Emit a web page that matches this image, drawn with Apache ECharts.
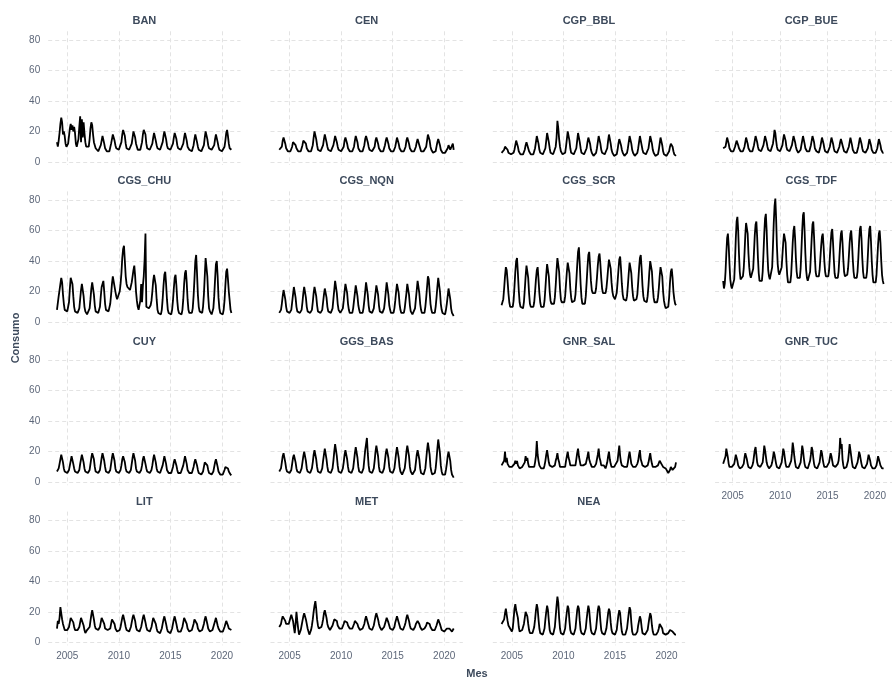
<!DOCTYPE html>
<html>
<head>
<meta charset="utf-8">
<script src="https://cdn.jsdelivr.net/npm/echarts@6/dist/echarts.min.js"></script>
<style>
  html, body { margin: 0; padding: 0; background: #ffffff; }
  #chart { width: 892px; height: 679px; }
</style>
</head>
<body>
<div id="chart"></div>
<script>
// Monthly gas consumption per distribution area, Jan 2004 – Dec 2020 (one row per year)
const panelNames = ['BAN', 'CEN', 'CGP_BBL', 'CGP_BUE', 'CGS_CHU', 'CGS_NQN', 'CGS_SCR', 'CGS_TDF',
                    'CUY', 'GGS_BAS', 'GNR_SAL', 'GNR_TUC', 'LIT', 'MET', 'NEA'];
const startYear = 2004;
const yearTicks = [2005, 2010, 2015, 2020];
const consumoTicks = [0, 20, 40, 60, 80];

const BAN = [
  13,10,14,19,25,29,26,18,20,17,12,10,
  10,12,17,22,25,21,24,20,23,19,12,10,
  11,15,23,30,13,28,16,26,19,13,10,9,
  9,10,15,22,26,24,18,13,11,9,8,8,
  7,6,8,11,14,17,16,12,9,8,7,6,
  7,7,8,12,15,18,17,14,11,9,8,8,
  8,8,9,13,18,21,22,17,12,9,8,8,
  8,8,9,12,16,20,21,16,12,10,8,8,
  8,8,9,13,18,21,22,18,12,9,8,8,
  8,8,9,12,16,19,18,14,11,9,8,8,
  8,8,9,13,17,20,20,15,11,9,8,8,
  8,8,9,12,16,19,19,15,11,9,8,8,
  8,8,9,12,16,19,18,14,10,9,8,8,
  7,7,8,11,15,18,17,13,10,8,8,7,
  7,7,8,11,16,20,19,15,11,9,8,8,
  8,7,8,11,15,18,17,13,10,8,8,7,
  7,7,8,10,14,19,21,17,12,9,8,8
];
const CEN = [
  8,7,8,10,14,16,15,12,9,8,7,7,
  7,7,8,10,13,14,14,11,9,8,7,7,
  7,7,8,11,14,15,14,12,9,8,7,7,
  7,7,8,11,16,20,19,15,11,8,7,7,
  7,7,8,11,15,18,17,13,10,8,7,7,
  7,7,8,11,14,17,16,13,10,8,7,7,
  7,7,8,10,14,16,16,12,9,8,7,7,
  7,7,8,10,14,17,16,13,9,8,7,7,
  7,7,8,11,15,17,17,13,10,8,7,7,
  7,7,8,10,14,16,15,12,9,8,7,7,
  7,7,8,11,14,16,16,12,9,8,7,7,
  7,7,8,10,13,16,15,12,9,8,7,6,
  7,7,8,10,14,16,15,12,9,8,7,7,
  7,7,8,10,13,15,15,11,9,7,7,6,
  7,6,7,10,14,18,19,14,10,8,7,6,
  7,6,7,10,13,15,14,11,8,7,6,6,
  6,6,6,7,9,11,10,8,7,9,12,8
];
const CGP_BBL = [
  6,5,6,8,10,11,10,8,6,5,5,5,
  5,5,6,8,11,14,13,10,7,6,5,5,
  5,5,6,8,11,13,12,9,7,6,5,5,
  5,5,6,9,13,17,16,12,8,6,5,5,
  5,5,6,9,14,19,18,13,9,6,5,5,
  5,5,6,10,16,27,22,15,10,7,6,5,
  5,5,6,10,15,20,19,14,9,6,5,5,
  5,5,6,9,14,19,18,13,9,6,5,5,
  5,5,6,9,13,16,16,12,8,6,5,4,
  5,5,6,9,13,17,16,12,8,6,5,5,
  5,5,6,9,14,18,17,12,8,6,5,4,
  5,4,5,8,12,15,15,11,8,6,5,4,
  5,5,6,9,13,17,16,12,8,6,5,4,
  5,5,6,9,13,17,16,11,8,6,5,5,
  5,5,6,9,13,17,16,12,8,6,5,4,
  4,4,5,8,12,16,15,11,7,5,5,4,
  4,4,5,7,10,12,13,10,7,5,4,4
];
const CGP_BUE = [
  9,8,8,10,13,16,15,12,9,8,7,7,
  7,7,8,10,12,14,14,11,9,8,7,7,
  7,7,8,10,13,16,15,12,9,8,7,7,
  7,7,8,11,14,17,17,13,10,8,7,7,
  7,7,8,11,14,17,16,13,10,8,7,7,
  7,7,8,12,16,21,19,14,10,8,7,7,
  7,7,8,11,15,18,18,14,10,8,7,7,
  7,7,8,11,14,17,17,13,10,8,7,6,
  7,7,8,11,14,17,16,12,9,8,7,6,
  7,7,8,11,14,17,17,13,9,8,7,6,
  7,6,7,10,13,16,16,12,9,7,6,6,
  6,6,7,10,13,16,15,12,9,7,6,6,
  6,6,7,10,13,15,15,11,9,7,6,6,
  6,6,7,10,13,16,15,11,8,7,6,6,
  6,6,7,10,13,16,16,12,9,7,6,6,
  6,6,7,9,12,15,15,11,8,7,6,6,
  6,6,7,9,12,15,14,11,8,7,6,6
];
const CGS_CHU = [
  8,8,17,21,25,29,26,18,12,8,7,7,
  7,8,13,22,29,27,25,17,10,7,6,6,
  6,6,9,15,21,25,24,17,10,7,6,5,
  5,6,9,15,22,26,25,18,11,7,6,6,
  6,6,10,17,23,24,27,20,12,8,7,7,
  7,8,12,18,25,30,31,29,20,17,15,14,
  16,20,25,32,42,48,50,40,30,25,23,22,
  22,21,22,26,30,34,37,30,20,14,10,8,
  7,14,25,13,24,30,41,58,10,9,10,9,
  10,11,14,20,27,31,32,24,15,8,6,5,
  5,5,8,15,24,31,33,25,15,8,6,5,
  5,5,8,14,22,29,31,24,14,8,6,5,
  5,5,8,15,25,32,34,26,15,8,6,5,
  6,6,9,17,28,40,44,32,18,10,7,6,
  6,6,10,18,30,42,41,30,17,9,7,6,
  5,5,9,17,28,38,40,30,16,9,6,5,
  5,5,8,14,24,33,35,28,20,14,8,6
];
const CGS_NQN = [
  6,6,8,12,17,21,20,15,10,7,6,6,
  6,6,8,13,18,23,22,16,10,7,6,6,
  6,6,8,13,19,23,22,16,10,7,6,6,
  6,6,8,13,19,23,23,17,11,7,6,6,
  6,6,8,13,18,22,23,16,10,7,6,6,
  6,6,9,15,21,27,26,19,12,8,7,6,
  6,6,9,14,20,25,26,19,12,8,6,6,
  6,6,9,14,19,24,23,17,11,8,6,6,
  6,6,9,14,20,26,25,18,11,7,6,6,
  6,6,9,14,19,24,25,18,11,7,6,6,
  6,6,9,14,20,26,25,18,11,8,6,6,
  6,6,9,14,20,25,26,19,12,8,6,6,
  6,6,9,14,19,25,24,18,11,7,6,5,
  5,6,9,15,21,27,26,19,12,8,6,6,
  6,6,10,16,23,30,28,20,12,8,6,6,
  6,6,10,16,23,29,28,20,12,8,6,5,
  5,5,8,12,17,22,21,15,9,6,5,4
];
const CGS_SCR = [
  11,12,15,22,30,36,34,27,19,13,10,10,
  9,10,14,23,33,40,42,32,21,13,10,9,
  9,9,13,21,30,37,38,29,19,12,10,9,
  9,10,13,20,28,34,36,28,19,13,10,10,
  9,10,14,22,31,38,39,30,20,14,12,12,
  12,12,16,24,34,42,43,33,22,15,13,12,
  12,13,17,25,33,39,40,32,22,16,13,13,
  13,14,18,27,37,46,49,38,25,16,12,11,
  11,12,17,26,36,44,46,37,27,21,19,19,
  19,19,22,29,37,43,45,38,29,22,19,19,
  19,19,22,28,35,41,42,35,26,20,17,16,
  15,16,19,26,34,41,43,35,25,18,15,14,
  14,14,17,24,32,39,40,32,23,17,14,14,
  14,15,18,26,35,42,44,35,24,17,14,13,
  13,13,17,24,33,40,41,33,23,16,13,13,
  13,13,16,22,30,36,37,30,20,14,11,9,
  8,9,10,16,26,33,35,29,20,15,12,11
];
const CGS_TDF = [
  27,22,25,33,45,55,58,50,38,28,24,22,
  22,23,28,40,55,66,69,60,45,33,28,29,
  29,30,35,45,57,65,66,58,45,36,31,29,
  29,30,35,46,57,64,66,56,42,32,27,26,
  26,27,33,45,58,68,71,60,45,34,30,28,
  28,29,36,50,65,76,81,68,50,38,33,31,
  31,32,36,44,52,58,59,52,40,31,26,25,
  25,26,31,41,52,60,63,55,42,33,29,28,
  28,29,35,47,60,70,72,60,45,34,29,27,
  27,28,33,44,55,64,66,56,43,33,30,29,
  29,30,34,42,50,56,58,50,40,33,30,29,
  29,30,34,43,52,59,61,52,41,32,29,28,
  28,29,33,42,51,58,60,52,41,33,30,30,
  30,31,35,43,52,58,60,52,41,33,29,28,
  28,29,33,42,53,61,63,55,42,33,29,28,
  28,29,33,43,54,61,63,53,40,31,26,25,
  25,26,31,41,51,58,60,52,40,31,27,25
];
const CUY = [
  7,7,9,12,15,18,17,13,9,7,6,6,
  6,6,8,11,14,17,16,12,9,7,6,6,
  6,6,8,12,15,18,17,13,9,7,6,6,
  6,6,8,12,16,19,20,15,10,7,6,6,
  6,6,8,12,16,19,18,14,10,7,6,6,
  6,6,8,12,16,19,18,14,9,7,6,6,
  6,6,8,11,15,17,18,13,9,7,6,6,
  6,6,8,12,16,19,18,14,9,7,6,6,
  6,6,8,11,15,17,16,12,9,7,6,6,
  6,6,8,11,15,18,17,13,9,7,6,6,
  6,6,7,11,14,17,16,12,8,7,6,6,
  6,6,7,10,13,15,15,11,8,6,6,5,
  6,6,7,11,14,17,16,12,8,7,6,6,
  6,6,7,10,13,15,14,11,8,6,6,5,
  5,5,7,10,13,14,14,11,8,6,5,5,
  5,5,7,10,13,15,14,10,7,6,5,5,
  5,5,6,8,10,11,11,9,7,6,5,4.5
];
const GGS_BAS = [
  7,7,9,13,17,19,18,13,9,7,6,6,
  6,6,8,12,16,18,17,13,9,7,6,6,
  6,6,9,13,17,20,19,14,9,7,6,6,
  6,6,9,13,18,21,21,15,10,7,6,6,
  6,6,9,14,18,22,21,15,10,7,6,6,
  6,6,9,14,20,25,24,17,11,7,6,6,
  6,6,9,13,18,21,20,15,10,7,6,6,
  6,6,9,14,19,23,22,16,10,7,6,6,
  6,6,9,15,21,25,29,19,11,7,6,6,
  6,6,9,14,20,24,23,17,10,7,6,6,
  6,6,9,14,19,22,21,16,10,7,6,6,
  6,6,9,14,19,23,22,16,10,7,6,5,
  5,6,9,14,20,24,23,17,10,7,6,5,
  5,6,8,13,18,21,20,15,9,6,5,5,
  5,6,9,15,21,26,25,18,10,7,5,5,
  5,6,9,15,22,28,27,19,11,7,5,5,
  5,5,8,12,17,20,19,14,8,5,4,3
];
const GNR_SAL = [
  11,12,10,14,20,13,16,12,11,10,11,10,
  10,11,10,12,14,12,14,11,10,9,10,10,
  10,9,11,13,17,14,16,12,10,11,9,10,
  10,11,10,13,17,27,18,14,11,10,9,10,
  10,9,11,14,18,21,17,13,11,10,11,10,
  10,10,11,14,16,19,15,13,10,11,9,10,
  10,11,10,14,17,20,16,14,11,10,10,11,
  10,12,11,15,19,22,17,14,11,12,10,11,
  11,10,12,13,17,20,15,13,12,10,11,10,
  10,11,12,15,18,22,16,14,11,12,10,11,
  10,9,11,13,17,20,15,12,10,11,9,10,
  10,12,11,14,19,24,17,13,11,10,12,10,
  10,11,10,13,17,20,16,12,11,10,10,11,
  10,11,12,14,18,21,15,13,11,12,10,10,
  10,9,11,13,16,19,15,12,10,11,10,10,
  10,10,11,12,14,13,12,11,10,10,9,9,
  9,8,6,7,8,10,9,8,7,8,10,13
];
const GNR_TUC = [
  12,11,13,17,22,19,16,12,10,11,10,10,
  10,11,12,15,18,16,14,11,10,9,10,10,
  10,10,12,16,19,17,15,12,10,9,10,9,
  10,11,13,17,21,23,18,13,11,10,10,10,
  10,10,13,18,24,21,17,13,11,10,9,10,
  10,11,13,16,20,18,15,12,10,9,10,9,
  10,10,13,17,22,20,16,12,10,9,10,10,
  10,11,14,19,26,22,17,13,10,9,9,9,
  9,10,13,18,24,21,16,12,10,9,10,9,
  9,10,14,18,23,21,16,12,10,11,9,9,
  9,10,13,17,21,19,15,12,10,9,9,10,
  10,11,13,16,19,17,14,11,10,12,10,10,
  10,12,14,19,29,22,25,15,11,9,10,10,
  10,11,14,19,25,21,17,13,10,9,10,9,
  9,10,13,16,20,18,15,12,10,9,9,9,
  9,10,12,15,18,17,14,11,10,9,9,9,
  9,9,11,14,17,16,13,11,10,9,9,9
];
const LIT = [
  9,14,12,16,23,19,15,12,10,8,7,8,
  8,8,10,13,16,17,16,13,10,8,8,8,
  8,8,10,13,16,17,15,11,8,6,7,8,
  8,8,10,14,18,21,20,15,11,9,8,8,
  8,8,10,13,16,17,16,12,9,8,8,8,
  8,8,9,12,15,16,15,12,9,8,7,7,
  7,8,10,13,16,18,17,13,10,8,7,7,
  7,8,10,13,16,18,18,14,10,8,7,7,
  7,8,10,13,16,18,17,13,10,8,7,7,
  7,8,10,13,16,17,16,12,9,7,6,6,
  6,7,9,12,15,17,16,12,9,7,6,6,
  6,7,9,12,15,17,16,12,9,7,7,7,
  7,8,10,13,16,17,16,12,9,8,7,7,
  7,8,9,12,15,16,15,12,9,8,7,7,
  7,8,9,12,15,17,16,12,9,8,7,7,
  7,8,9,12,14,16,15,11,9,8,7,7,
  7,7,8,10,12,14,13,11,9,8,8,8
];
const MET = [
  10,11,12,15,17,18,16,14,12,11,11,12,
  13,16,18,19,14,10,6,12,20,14,9,5,
  5,8,11,14,17,19,18,15,12,9,7,5,
  6,8,11,15,20,24,27,22,15,11,9,9,
  9,10,12,15,19,21,20,16,12,10,9,8,
  8,9,11,13,15,16,16,14,11,10,9,9,
  9,9,10,12,14,15,15,13,11,10,9,8,
  8,9,10,12,14,15,14,12,10,9,8,8,
  8,9,10,12,15,17,16,13,11,9,8,8,
  8,9,11,14,17,19,18,15,12,10,9,8,
  8,9,10,12,14,16,15,13,11,9,8,8,
  8,9,10,13,15,17,16,13,11,9,8,8,
  8,9,11,13,16,18,17,14,11,9,8,8,
  8,9,10,12,13,14,14,12,10,9,8,8,
  8,9,10,11,13,14,13,12,10,9,8,7,
  7,8,9,11,13,15,14,12,10,8,7,7,
  7,6,7,9,10,10,9,8,9,7,8,9
];
const NEA = [
  12,12,13,15,19,22,18,14,11,10,9,8,
  7,9,15,22,25,21,20,16,10,7,7,8,
  8,9,12,16,20,21,17,12,8,6,6,6,
  6,7,10,15,21,25,22,15,9,6,5,5,
  5,6,9,15,20,24,21,14,8,6,5,5,
  5,6,10,17,24,30,26,16,9,6,5,5,
  5,6,9,15,20,24,22,14,8,6,5,5,
  5,6,9,15,21,24,22,14,8,6,5,5,
  5,6,9,15,20,24,21,14,8,6,5,5,
  5,6,9,15,21,24,22,14,8,6,5,5,
  5,6,9,14,19,22,20,13,8,6,5,5,
  5,6,8,13,18,21,19,12,7,5,5,5,
  5,6,9,14,19,23,21,13,7,5,5,5,
  5,5,7,11,14,17,15,10,6,5,5,5,
  5,5,8,12,16,19,17,11,7,5,5,5,
  5,5,7,9,12,13,12,9,6,5,5,5,
  5,5,6,7,8,9,8,7,6,6,5,5
];

const seriesValues = [BAN, CEN, CGP_BBL, CGP_BUE, CGS_CHU, CGS_NQN, CGS_SCR, CGS_TDF,
                      CUY, GGS_BAS, GNR_SAL, GNR_TUC, LIT, MET, NEA];

// facet layout (4 columns, panels wrap left-to-right)
const nCol = 4;
const cellLeft = 48.2, cellStepX = 222.3, cellW = 192.3;
const cellTop = 31.3, cellStepY = 160.1, cellH = 133.7;
const xMin = 2003.15, xMax = 2021.8;
const yMin = -2, yMax = 85.7;

const FONT = '"Liberation Sans", Arial, Helvetica, sans-serif';
const stripColor = '#3d4a5c';
const tickColor = '#5d6779';
const gridColor = '#e3e3e3';

const grids = [], xAxes = [], yAxes = [], series = [], graphics = [];
const nPanels = panelNames.length;

panelNames.forEach((name, k) => {
  const col = k % nCol, row = Math.floor(k / nCol);
  const left = cellLeft + col * cellStepX;
  const top = cellTop + row * cellStepY;
  grids.push({ left: left, top: top, width: cellW, height: cellH, containLabel: false });

  // x labels only where nothing sits below the panel
  const showX = (k + nCol) >= nPanels;
  xAxes.push({
    type: 'value', gridIndex: k, min: xMin, max: xMax,
    axisLine: { show: false },
    axisTick: { show: false, customValues: yearTicks },
    axisLabel: { show: showX, customValues: yearTicks, color: tickColor, fontSize: 10,
                 fontFamily: FONT, margin: 6, formatter: v => String(Math.round(v)) },
    splitLine: { show: true, lineStyle: { color: gridColor, width: 1, type: [4, 3] } }
  });
  yAxes.push({
    type: 'value', gridIndex: k, min: yMin, max: yMax,
    axisLine: { show: false },
    axisTick: { show: false, customValues: consumoTicks },
    axisLabel: { show: col === 0, customValues: consumoTicks, color: tickColor, fontSize: 10,
                 fontFamily: FONT, margin: 8, formatter: v => String(Math.round(v)) },
    splitLine: { show: true, lineStyle: { color: gridColor, width: 1, type: [4, 3] } }
  });
  series.push({
    type: 'line', name: name, xAxisIndex: k, yAxisIndex: k,
    data: seriesValues[k].map((v, i) => [startYear + i / 12, v]),
    showSymbol: false, symbol: 'none', smooth: false, animation: false,
    lineStyle: { color: '#000000', width: 1.8 },
    clip: true
  });
  graphics.push({
    type: 'text', x: left + cellW / 2, y: top - 10,
    style: { text: name, fill: stripColor, font: 'bold 11px ' + FONT,
             textAlign: 'center', textVerticalAlign: 'middle' }
  });
});

// axis titles
graphics.push({
  type: 'text', x: 16, y: 338, rotation: Math.PI / 2,
  style: { text: 'Consumo', fill: stripColor, font: 'bold 11px ' + FONT,
           textAlign: 'center', textVerticalAlign: 'middle' }
});
graphics.push({
  type: 'text', x: 477, y: 674,
  style: { text: 'Mes', fill: stripColor, font: 'bold 11px ' + FONT,
           textAlign: 'center', textVerticalAlign: 'middle' }
});

const chart = echarts.init(document.getElementById('chart'), null, { renderer: 'canvas' });
chart.setOption({
  backgroundColor: '#ffffff',
  animation: false,
  grid: grids,
  xAxis: xAxes,
  yAxis: yAxes,
  series: series,
  graphic: graphics
});
</script>
</body>
</html>
